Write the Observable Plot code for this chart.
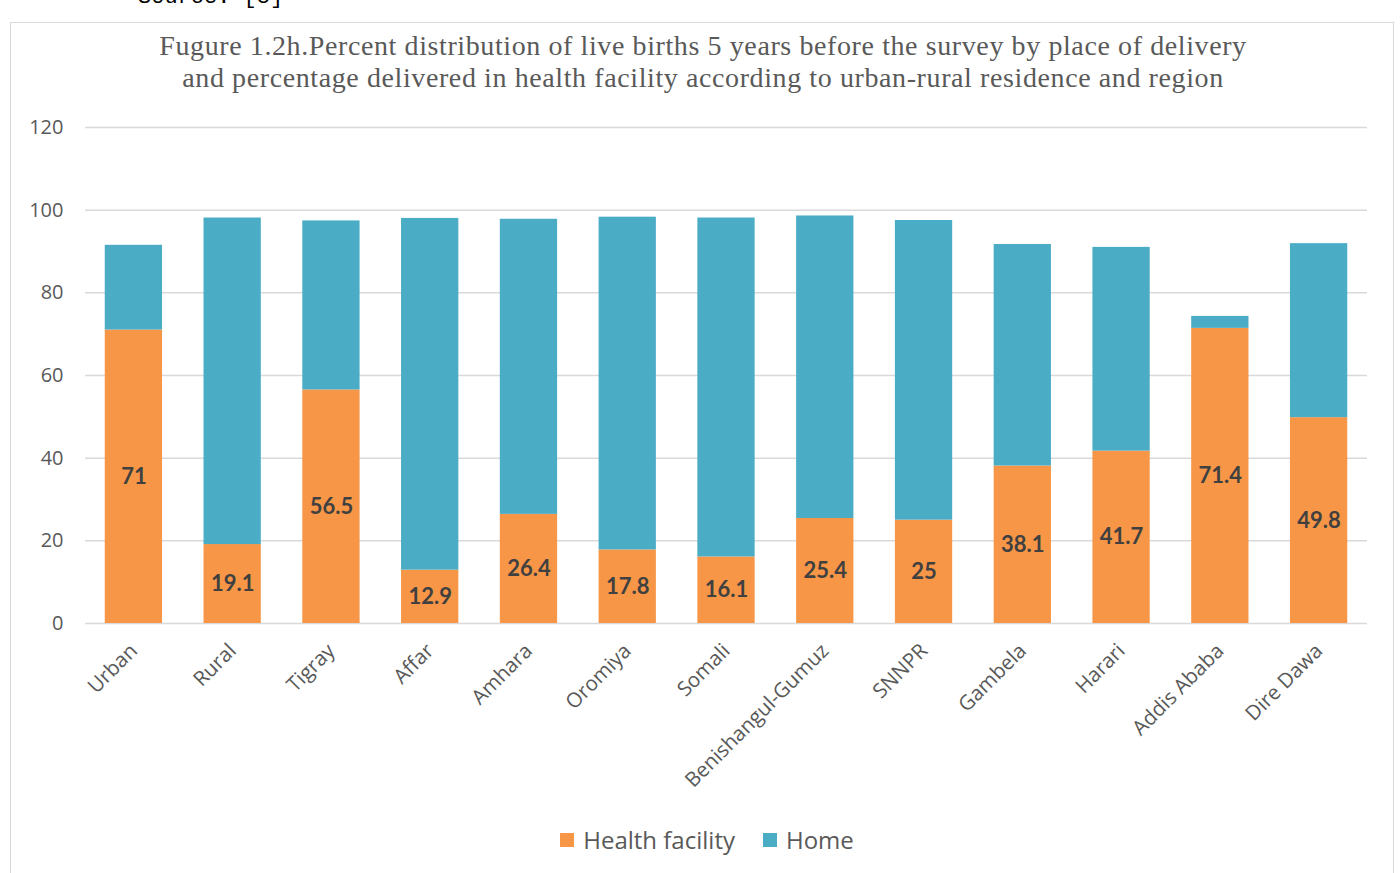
<!DOCTYPE html>
<html>
<head>
<meta charset="utf-8">
<script src="https://cdn.jsdelivr.net/npm/d3@7"></script>
<script src="https://cdn.jsdelivr.net/npm/@observablehq/plot@0.6"></script>
<style>
  html, body { margin: 0; padding: 0; background: #fff; width: 1400px; height: 873px; overflow: hidden; }
  #source { position: absolute; left: 138px; top: -13px; font-family: "Liberation Mono", monospace; font-size: 22px; line-height: 22px; color: #000; white-space: nowrap; }
  #frame { position: absolute; left: 10px; top: 22px; width: 1384px; height: 870px; border: 1px solid #d9d9d9; box-sizing: border-box; }
  #title { position: absolute; left: 0; top: 30px; width: 1406px; text-align: center; font-family: "Liberation Serif", serif; font-size: 28px; letter-spacing: 0.6px; line-height: 32px; color: #595959; }
  #chart { position: absolute; left: 0; top: 0; }
  #legend { position: absolute; top: 823px; left: 0; width: 1400px; display: flex; justify-content: center; gap: 28px; font-family: "Open Sans", sans-serif; font-size: 24px; color: #595959; padding-left: 14px; box-sizing: border-box; }
  .li { display: flex; align-items: center; gap: 9px; }
  .sw { width: 14px; height: 14px; display: inline-block; }
</style>
</head>
<body>
<div id="source">Source: [8]</div>
<div id="frame"></div>
<div id="chart"></div>
<div id="title">Fugure 1.2h.Percent distribution of live births 5 years before the survey by place of delivery<br>and percentage delivered in health facility according to urban-rural residence and region</div>
<div id="legend"></div>
<script>
const categories = ["Urban", "Rural", "Tigray", "Affar", "Amhara", "Oromiya", "Somali", "Benishangul-Gumuz", "SNNPR", "Gambela", "Harari", "Addis Ababa", "Dire Dawa"];
const healthFacility = [71, 19.1, 56.5, 12.9, 26.4, 17.8, 16.1, 25.4, 25, 38.1, 41.7, 71.4, 49.8];
const home = [20.5, 79.0, 40.9, 85.1, 71.4, 80.5, 82.0, 73.2, 72.5, 53.6, 49.3, 2.9, 42.1];
const seriesNames = ["Health facility", "Home"];
const seriesColors = ["#F79646", "#4BACC6"];
const yTicks = [0, 20, 40, 60, 80, 100, 120];

const rows = [];
categories.forEach((c, i) => {
  rows.push({cat: c, series: seriesNames[0], value: healthFacility[i]});
  rows.push({cat: c, series: seriesNames[1], value: home[i]});
});
const hfRows = rows.filter(d => d.series === seriesNames[0]);

const plot = Plot.plot({
  width: 1400,
  height: 800,
  marginLeft: 85,
  marginRight: 33,
  marginTop: 127,
  marginBottom: 177,
  style: {fontFamily: "'Open Sans', sans-serif", background: "transparent"},
  x: {domain: categories, paddingInner: 0.42, paddingOuter: 0.2, round: false, label: null},
  y: {domain: [0, 120], label: null},
  color: {domain: seriesNames, range: seriesColors},
  marks: [
    Plot.gridY(yTicks, {stroke: "#d9d9d9", strokeOpacity: 1, strokeWidth: 1.5}),
    Plot.barY(rows, Plot.stackY({x: "cat", y: "value", fill: "series", order: seriesNames})),
    Plot.text(hfRows, {x: "cat", y: d => d.value / 2, text: d => String(d.value), fill: "#404040", fontWeight: "bold", fontSize: 22, fontFamily: "Lato, sans-serif"}),
    Plot.axisY(yTicks, {tickSize: 0, tickPadding: 22, fontSize: 20, color: "#595959", label: null}),
    Plot.axisX({tickSize: 0, tickPadding: 24, tickRotate: -45, fontSize: 20.5, color: "#595959", label: null})
  ]
});
document.getElementById("chart").appendChild(plot);

const legend = document.getElementById("legend");
seriesNames.forEach((n, i) => {
  const item = document.createElement("div");
  item.className = "li";
  const sw = document.createElement("span");
  sw.className = "sw";
  sw.style.background = seriesColors[i];
  const t = document.createElement("span");
  t.textContent = n;
  item.appendChild(sw); item.appendChild(t);
  legend.appendChild(item);
});
</script>
</body>
</html>
